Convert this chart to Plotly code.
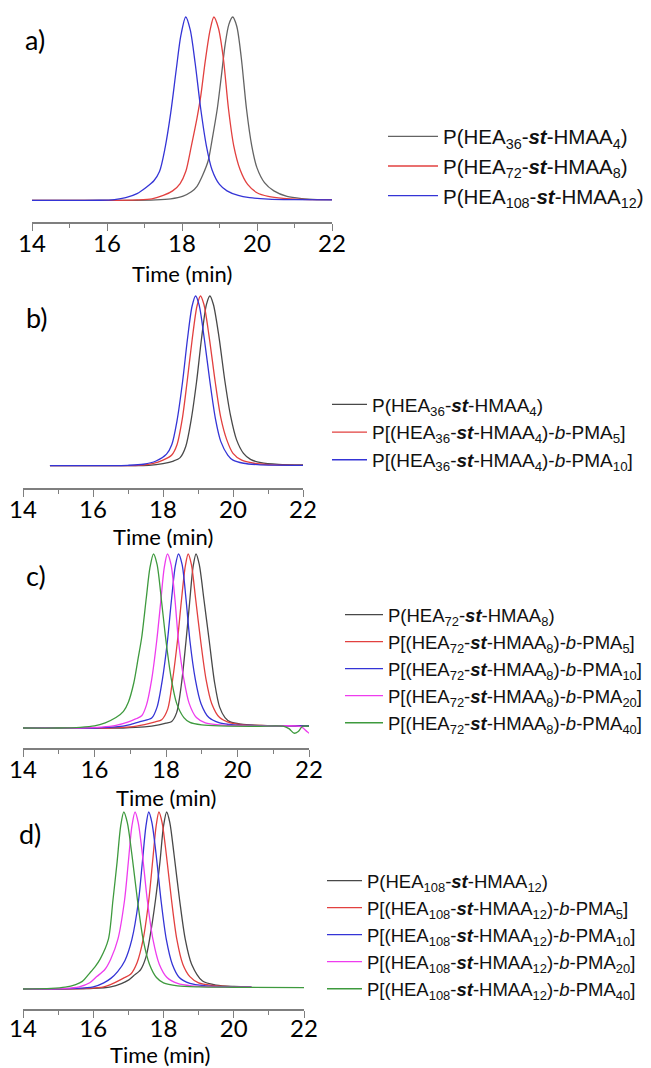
import plotly.graph_objects as go

# a) P(HEA-st-HMAA) copolymers
a_t_36 = [14.0, 16.5, 17.3, 17.7, 18.03, 18.25, 18.4, 18.55, 18.7, 18.8, 18.94, 19.05, 19.15, 19.25, 19.35,
          19.46, 19.58, 19.72, 19.86, 20.0, 20.2, 20.45, 20.8, 21.2, 21.6, 22.0]
a_y_36 = [0.003, 0.003, 0.006, 0.012, 0.027, 0.05, 0.08, 0.14, 0.22, 0.33, 0.5, 0.68, 0.85, 0.96, 1.0,
          0.95, 0.78, 0.5, 0.3, 0.18, 0.1, 0.055, 0.025, 0.013, 0.008, 0.007]
a_t_72 = [14.0, 16.0, 16.8, 17.2, 17.5, 17.75, 17.95, 18.1, 18.25, 18.4, 18.5, 18.62, 18.75, 18.85, 18.97,
          19.1, 19.24, 19.38, 19.55, 19.75, 20.0, 20.3, 20.7, 21.2, 22.0]
a_y_72 = [0.003, 0.003, 0.006, 0.012, 0.03, 0.055, 0.095, 0.16, 0.3, 0.45, 0.57, 0.76, 0.93, 1.0, 0.94,
          0.78, 0.5, 0.3, 0.17, 0.09, 0.045, 0.025, 0.014, 0.009, 0.007]
a_t_108 = [14.0, 15.0, 15.8, 16.2, 16.5, 16.8, 17.05, 17.25, 17.4, 17.55, 17.7, 17.85, 17.97, 18.1, 18.22,
           18.35, 18.5, 18.65, 18.8, 19.0, 19.2, 19.5, 19.8, 20.3, 21.0, 22.0]
a_y_108 = [0.003, 0.003, 0.004, 0.008, 0.018, 0.04, 0.075, 0.11, 0.16, 0.29, 0.48, 0.72, 0.9, 1.0, 0.93,
           0.75, 0.5, 0.3, 0.17, 0.09, 0.055, 0.03, 0.018, 0.01, 0.007, 0.006]

# b) HEA36 macro-CTA and its PMA block copolymers
b_t_0 = [14.77, 17.0, 17.6, 18.0, 18.3, 18.49, 18.65, 18.8, 18.96, 19.1, 19.24, 19.34, 19.44, 19.6, 19.77,
         19.93, 20.1, 20.3, 20.5, 20.8, 21.3, 22.0]
b_y_0 = [0.008, 0.008, 0.01, 0.02, 0.035, 0.055, 0.12, 0.27, 0.5, 0.75, 0.95, 1.0, 0.95, 0.76, 0.5,
         0.3, 0.16, 0.08, 0.045, 0.025, 0.015, 0.012]
b_t_5 = [14.77, 16.5, 17.3, 17.7, 18.0, 18.25, 18.4, 18.55, 18.69, 18.83, 18.97, 19.07, 19.17, 19.32, 19.49,
         19.65, 19.82, 20.0, 20.25, 20.6, 21.0, 22.0]
b_y_5 = [0.008, 0.008, 0.01, 0.02, 0.04, 0.07, 0.13, 0.28, 0.5, 0.74, 0.94, 1.0, 0.95, 0.76, 0.5,
         0.29, 0.16, 0.08, 0.04, 0.022, 0.014, 0.01]
b_t_10 = [14.77, 16.0, 17.0, 17.44, 17.8, 18.1, 18.25, 18.4, 18.56, 18.7, 18.83, 18.93, 19.03, 19.18, 19.34,
          19.5, 19.65, 19.85, 20.0, 20.3, 20.7, 21.2, 22.0]
b_y_10 = [0.008, 0.008, 0.01, 0.016, 0.035, 0.075, 0.13, 0.27, 0.5, 0.75, 0.94, 1.0, 0.95, 0.75, 0.5,
          0.28, 0.15, 0.07, 0.04, 0.022, 0.014, 0.011, 0.01]

# c) HEA72 macro-CTA and its PMA block copolymers
c_t_0 = [14.0, 16.8, 17.4, 17.8, 18.0, 18.16, 18.3, 18.43, 18.56, 18.66, 18.76, 18.84, 18.93, 19.06, 19.21,
         19.36, 19.5, 19.65, 19.8, 20.1, 20.5, 21.0, 22.0]
c_y_0 = [0.0, 0.0, 0.006, 0.018, 0.028, 0.038, 0.09, 0.25, 0.5, 0.72, 0.93, 1.0, 0.94, 0.74, 0.5,
         0.26, 0.12, 0.06, 0.035, 0.022, 0.016, 0.013, 0.012]
c_t_5 = [14.0, 16.4, 17.0, 17.4, 17.7, 17.88, 18.05, 18.18, 18.32, 18.43, 18.54, 18.62, 18.71, 18.83, 18.97,
         19.12, 19.28, 19.5, 19.8, 20.2, 20.8, 21.5, 22.0]
c_y_5 = [0.0, 0.0, 0.006, 0.02, 0.035, 0.048, 0.11, 0.27, 0.5, 0.73, 0.93, 1.0, 0.94, 0.74, 0.5,
         0.28, 0.14, 0.06, 0.03, 0.018, 0.014, 0.012, 0.012]
c_t_10 = [14.0, 16.0, 16.6, 17.0, 17.3, 17.6, 17.75, 17.9, 18.04, 18.15, 18.26, 18.35, 18.45, 18.56, 18.67,
          18.82, 18.98, 19.2, 19.5, 19.9, 20.5, 21.5, 22.0]
c_y_10 = [0.0, 0.0, 0.006, 0.02, 0.038, 0.057, 0.12, 0.28, 0.5, 0.73, 0.93, 1.0, 0.94, 0.74, 0.5,
          0.28, 0.14, 0.06, 0.03, 0.018, 0.014, 0.012, 0.012]
c_t_20 = [14.0, 15.5, 16.2, 16.6, 16.95, 17.15, 17.32, 17.45, 17.6, 17.74, 17.85, 17.95, 18.04, 18.14, 18.25,
          18.35, 18.5, 18.65, 18.85, 19.1, 19.5, 20.2, 21.0, 21.6, 21.8, 21.95, 22.0]
c_y_20 = [0.0, 0.0, 0.005, 0.015, 0.035, 0.052, 0.07, 0.13, 0.28, 0.5, 0.72, 0.92, 1.0, 0.94, 0.74,
          0.5, 0.28, 0.14, 0.06, 0.03, 0.018, 0.013, 0.012, 0.012, 0.005, -0.022, -0.03]
c_t_40 = [14.0, 15.0, 15.6, 16.0, 16.3, 16.6, 16.81, 16.95, 17.1, 17.22, 17.32, 17.45, 17.55, 17.65, 17.75,
          17.88, 18.0, 18.15, 18.3, 18.5, 18.67, 19.0, 19.5, 20.5, 21.3, 21.45, 21.58, 21.7, 21.82, 22.0]
c_y_40 = [0.0, 0.0, 0.004, 0.012, 0.03, 0.06, 0.096, 0.15, 0.26, 0.4, 0.52, 0.75, 0.92, 1.0, 0.94,
          0.72, 0.5, 0.28, 0.14, 0.06, 0.032, 0.018, 0.012, 0.01, 0.01, -0.005, -0.03, -0.02, 0.01, 0.01]

# d) HEA108 macro-CTA and its PMA block copolymers
d_t_0 = [14.0, 16.0, 16.5, 16.8, 17.0, 17.15, 17.35, 17.5, 17.62, 17.77, 17.9, 18.0, 18.09, 18.18, 18.3,
         18.46, 18.62, 18.8, 19.11, 19.5, 20.0, 20.5]
d_y_0 = [0.0, 0.003, 0.012, 0.03, 0.05, 0.075, 0.11, 0.18, 0.3, 0.5, 0.72, 0.92, 1.0, 0.94, 0.76,
         0.5, 0.28, 0.14, 0.045, 0.022, 0.014, 0.012]
d_t_5 = [14.0, 15.8, 16.3, 16.6, 16.85, 17.07, 17.25, 17.42, 17.58, 17.69, 17.79, 17.87, 17.96, 18.08, 18.23,
         18.38, 18.55, 18.75, 19.0, 19.4, 20.0, 20.5]
d_y_5 = [0.0, 0.003, 0.012, 0.035, 0.06, 0.085, 0.15, 0.28, 0.5, 0.72, 0.92, 1.0, 0.94, 0.76, 0.5,
         0.28, 0.14, 0.07, 0.035, 0.02, 0.012, 0.01]
d_t_10 = [14.0, 15.5, 16.0, 16.3, 16.5, 16.7, 16.9, 17.1, 17.29, 17.4, 17.5, 17.58, 17.67, 17.79, 17.93,
          18.08, 18.25, 18.45, 18.75, 19.2, 19.8, 20.5]
d_y_10 = [0.0, 0.003, 0.012, 0.035, 0.06, 0.1, 0.16, 0.28, 0.5, 0.72, 0.92, 1.0, 0.94, 0.76, 0.5,
          0.28, 0.14, 0.065, 0.032, 0.018, 0.012, 0.01]
d_t_20 = [14.0, 15.2, 15.6, 15.9, 16.1, 16.33, 16.5, 16.7, 16.89, 17.0, 17.1, 17.19, 17.28, 17.4, 17.54,
          17.7, 17.88, 18.1, 18.4, 18.8, 19.5, 20.5]
d_y_20 = [0.0, 0.003, 0.012, 0.035, 0.07, 0.11, 0.17, 0.28, 0.5, 0.72, 0.92, 1.0, 0.94, 0.76, 0.5,
          0.28, 0.14, 0.065, 0.032, 0.018, 0.012, 0.01]
d_t_40 = [14.0, 14.8, 15.2, 15.5, 15.69, 15.9, 16.06, 16.2, 16.43, 16.56, 16.68, 16.78, 16.87, 16.97, 17.1,
          17.26, 17.42, 17.6, 17.8, 18.0, 18.4, 19.0, 20.0, 22.0]
d_y_40 = [0.0, 0.003, 0.01, 0.025, 0.043, 0.09, 0.128, 0.17, 0.28, 0.5, 0.72, 0.92, 1.0, 0.94, 0.76,
          0.5, 0.28, 0.14, 0.065, 0.035, 0.018, 0.012, 0.01, 0.008]

ST = "-<b><i>st</i></b>-"
names_a = ["P(HEA<sub>36</sub>" + ST + "HMAA<sub>4</sub>)",
           "P(HEA<sub>72</sub>" + ST + "HMAA<sub>8</sub>)",
           "P(HEA<sub>108</sub>" + ST + "HMAA<sub>12</sub>)"]
names_b = ["P(HEA<sub>36</sub>" + ST + "HMAA<sub>4</sub>)",
           "P[(HEA<sub>36</sub>" + ST + "HMAA<sub>4</sub>)-<i>b</i>-PMA<sub>5</sub>]",
           "P[(HEA<sub>36</sub>" + ST + "HMAA<sub>4</sub>)-<i>b</i>-PMA<sub>10</sub>]"]
names_c = ["P(HEA<sub>72</sub>" + ST + "HMAA<sub>8</sub>)"] + [
    "P[(HEA<sub>72</sub>" + ST + "HMAA<sub>8</sub>)-<i>b</i>-PMA<sub>%s</sub>]" % n for n in ["5", "10", "20", "40"]]
names_d = ["P(HEA<sub>108</sub>" + ST + "HMAA<sub>12</sub>)"] + [
    "P[(HEA<sub>108</sub>" + ST + "HMAA<sub>12</sub>)-<i>b</i>-PMA<sub>%s</sub>]" % n for n in ["5", "10", "20", "40"]]

BLACK = "rgba(40,40,40,0.85)"
RED = "#e2403f"
BLUE = "#3434d6"
MAGENTA = "#ee3cee"
GREEN = "#3e9a3e"

W, H = 651, 1068
OFF = 8  # default page margin of the html body


def px(x):
    return (x - OFF) / W


def py(y):
    return 1 - (y - OFF) / H


panels = [
    # (label, xs, ys, names, colours, x-pixel domain, plot top/bottom px, baseline px, peak px,
    #  label pos, x-title pos, legend (x, top) px, legend font size, legend item width, tick label standoff)
    ("a)", [a_t_36, a_t_72, a_t_108], [a_y_36, a_y_72, a_y_108], names_a, ["rgba(60,60,60,0.8)", RED, BLUE],
     (32, 332), (10, 222), 201, 17, (35, 40), (182, 273), (383, 116.5), 20.5, 50, -8),
    ("b)", [b_t_0, b_t_5, b_t_10], [b_y_0, b_y_5, b_y_10], names_b, [BLACK, RED, BLUE],
     (23, 303), (290, 488), 467, 296, (37, 317), (163, 536), (327, 385.5), 19, 35, -8),
    ("c)", [c_t_0, c_t_5, c_t_10, c_t_20, c_t_40], [c_y_0, c_y_5, c_y_10, c_y_20, c_y_40], names_c,
     [BLACK, RED, BLUE, MAGENTA, GREEN], (23, 309), (548, 748), 728, 554, (36, 575), (166, 797),
     (340, 596), 18.5, 38, -8),
    ("d)", [d_t_0, d_t_5, d_t_10, d_t_20, d_t_40], [d_y_0, d_y_5, d_y_10, d_y_20, d_y_40], names_d,
     [BLACK, RED, BLUE, MAGENTA, GREEN], (23, 304), (805, 1009), 989, 812, (30, 833), (160, 1054),
     (322, 862), 18.5, 35, -10),
]

fig = go.Figure()
layout = dict(width=W, height=H, margin=dict(l=0, r=0, t=0, b=0, autoexpand=False),
              paper_bgcolor="white", plot_bgcolor="white", annotations=[])

for i, (lab, xs, ys, names, cols, xdom, ydom, base, peak, labpos, tpos, legpos, lfs, iw, tso) in enumerate(
        panels, start=1):
    sfx = "" if i == 1 else str(i)
    leg = "legend" + sfx
    for x, y, n, c in zip(xs, ys, names, cols):
        fig.add_trace(go.Scatter(x=x, y=y, name=n, mode="lines",
                                 line=dict(color=c, width=1.3, shape="spline", smoothing=0.8),
                                 xaxis="x" + sfx, yaxis="y" + sfx, legend=leg))
    unit = base - peak
    ymin = -(ydom[1] - base) / unit
    ymax = 1 + (peak - ydom[0]) / unit
    layout["xaxis" + sfx] = dict(
        domain=[px(xdom[0]), px(xdom[1])], anchor="y" + sfx, range=[14, 22], automargin=False,
        showgrid=False, zeroline=False, showline=True, linecolor="#7f7f7f", linewidth=1.5,
        ticks="outside", ticklen=7, tickwidth=1.3, tickcolor="#7f7f7f", dtick=2, tick0=14,
        minor=dict(ticks="outside", ticklen=4, dtick=1, tickcolor="#7f7f7f", tickwidth=1),
        tickfont=dict(family="Lato", size=24, color="black"), ticklabelstandoff=tso,
        ticklabeloverflow="allow",
    )
    layout["yaxis" + sfx] = dict(domain=[py(ydom[1]), py(ydom[0])], anchor="x" + sfx,
                                 range=[ymin, ymax], visible=False, automargin=False)
    layout[leg] = dict(x=px(legpos[0]), y=py(legpos[1]), xanchor="left", yanchor="top",
                       bgcolor="rgba(0,0,0,0)", itemwidth=iw, tracegroupgap=0,
                       font=dict(family="Liberation Sans", size=lfs, color="#111"))
    layout["annotations"].append(dict(text=lab, x=px(labpos[0]), y=py(labpos[1]), xref="paper",
                                      yref="paper", showarrow=False, xanchor="center", yanchor="middle",
                                      font=dict(family="Lato", size=27, color="black")))
    # axis title
    layout["annotations"].append(dict(text="Time (min)", x=px(tpos[0]), y=py(tpos[1]), xref="paper",
                                      yref="paper", showarrow=False, xanchor="center", yanchor="middle",
                                      font=dict(family="Lato", size=22, color="black")))

fig.update_layout(**layout)
fig.write_html("out.html")
